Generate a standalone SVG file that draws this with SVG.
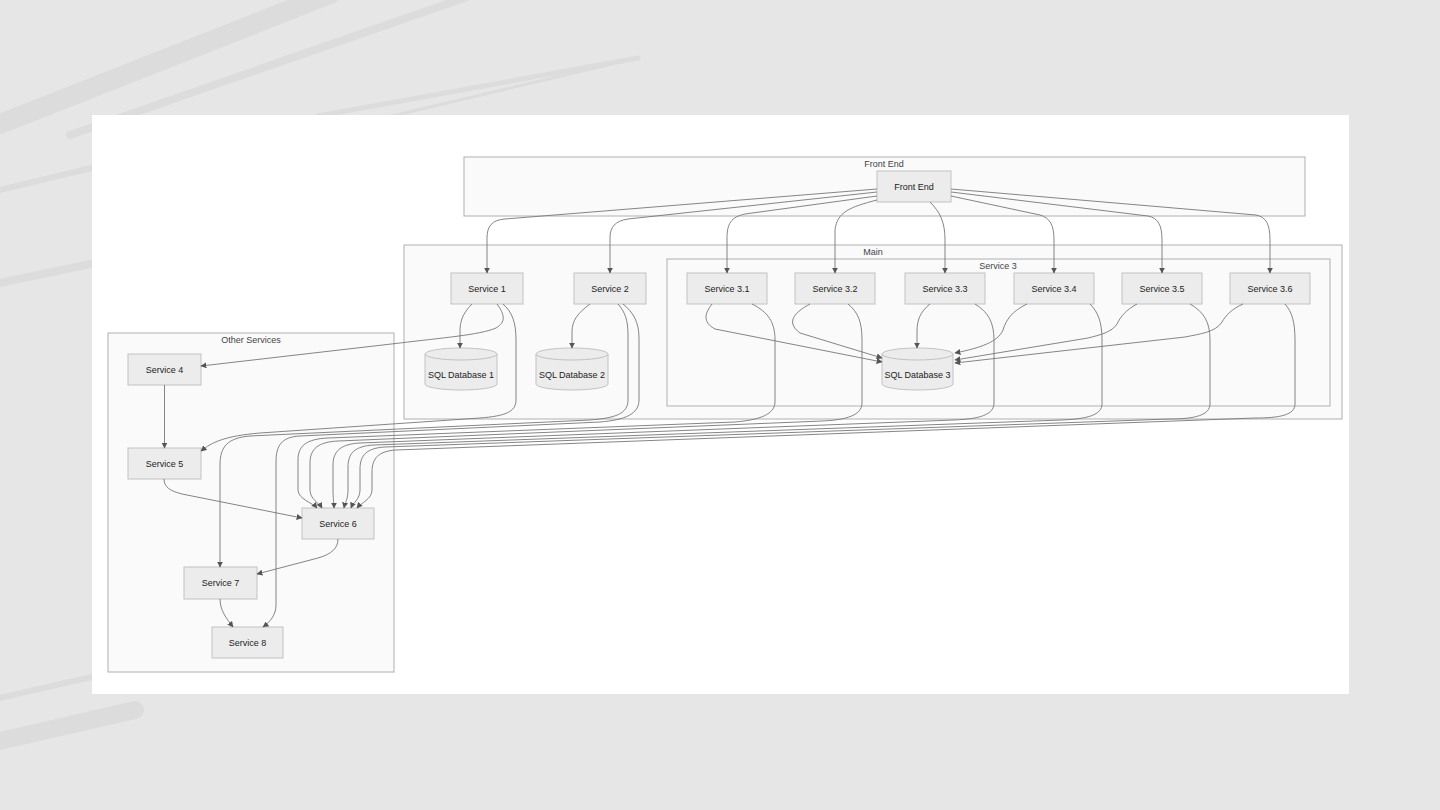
<svg xmlns="http://www.w3.org/2000/svg" width="1440" height="810" viewBox="0 0 1440 810">
<defs>
<style>
.bg{fill:#e6e6e6}
.brush{fill:none;stroke:#dcdcdc;stroke-linecap:round}
.cluster{fill:#fafafa;stroke:#b0b0b0;stroke-width:1}
.node rect,.node path{fill:#ececec;stroke:#c2c2c2;stroke-width:1}
.lbl{font-family:"Liberation Sans","DejaVu Sans",Arial,sans-serif;font-size:9px;fill:#222;text-anchor:middle}
.clbl{font-family:"Liberation Sans","DejaVu Sans",Arial,sans-serif;font-size:9px;fill:#444;text-anchor:middle}
.edges path{fill:none;stroke:#777;stroke-width:0.9;marker-end:url(#arr)}
</style>
<marker id="arr" viewBox="0 0 10 10" refX="9" refY="5" markerUnits="userSpaceOnUse" markerWidth="6" markerHeight="6" orient="auto">
<path d="M0,0 L10,5 L0,10 z" fill="#555"/>
</marker>
</defs>

<rect class="bg" x="0" y="0" width="1440" height="810"/>
<g id="brushes">
<path class="brush" d="M0,124 L330,-6" stroke-width="20"/>
<path class="brush" d="M70,135 L470,-4" stroke-width="8"/>
<path class="brush" d="M318,116 L638,58" stroke-width="5"/>
<path class="brush" d="M392,116 L612,64" stroke-width="3"/>
<path class="brush" d="M-5,191 L100,166" stroke-width="6"/>
<path class="brush" d="M-5,284 L100,262" stroke-width="8"/>
<path class="brush" d="M-5,699 L100,675" stroke-width="6"/>
<path class="brush" d="M-5,742 L135,710" stroke-width="18"/>
</g>

<rect x="92" y="115" width="1257" height="579" fill="#ffffff"/>

<g id="clusters">
<g id="cluster-frontend"><rect class="cluster" x="464" y="157" width="841" height="59"/><text class="clbl" x="884" y="167">Front End</text></g>
<g id="cluster-main"><rect class="cluster" x="404" y="245" width="938" height="174"/><text class="clbl" x="873" y="255">Main</text></g>
<g id="cluster-service3"><rect class="cluster" x="667" y="259" width="663" height="147"/><text class="clbl" x="998" y="269">Service 3</text></g>
<g id="cluster-other"><rect class="cluster" x="108" y="333" width="286" height="339"/><text class="clbl" x="251" y="343">Other Services</text></g>
</g>

<g id="nodes">
<g id="frontend" class="node"><rect x="877" y="171" width="74" height="31"/><text class="lbl" x="914" y="189.5">Front End</text></g>
<g id="service1" class="node"><rect x="451" y="273" width="72" height="31"/><text class="lbl" x="487" y="291.5">Service 1</text></g>
<g id="service2" class="node"><rect x="574" y="273" width="72" height="31"/><text class="lbl" x="610" y="291.5">Service 2</text></g>
<g id="service31" class="node"><rect x="687" y="273" width="80" height="31"/><text class="lbl" x="727" y="291.5">Service 3.1</text></g>
<g id="service32" class="node"><rect x="795" y="273" width="80" height="31"/><text class="lbl" x="835" y="291.5">Service 3.2</text></g>
<g id="service33" class="node"><rect x="905" y="273" width="80" height="31"/><text class="lbl" x="945" y="291.5">Service 3.3</text></g>
<g id="service34" class="node"><rect x="1014" y="273" width="80" height="31"/><text class="lbl" x="1054" y="291.5">Service 3.4</text></g>
<g id="service35" class="node"><rect x="1122" y="273" width="80" height="31"/><text class="lbl" x="1162" y="291.5">Service 3.5</text></g>
<g id="service36" class="node"><rect x="1230" y="273" width="80" height="31"/><text class="lbl" x="1270" y="291.5">Service 3.6</text></g>
<g id="db1" class="node"><path d="M425,354 a36,6 0 0 0 72,0 a36,6 0 0 0 -72,0 l0,30 a36,6 0 0 0 72,0 l0,-30"/><text class="lbl" x="461" y="378">SQL Database 1</text></g>
<g id="db2" class="node"><path d="M536,354 a36,6 0 0 0 72,0 a36,6 0 0 0 -72,0 l0,30 a36,6 0 0 0 72,0 l0,-30"/><text class="lbl" x="572" y="378">SQL Database 2</text></g>
<g id="db3" class="node"><path d="M882,354 a35.5,6 0 0 0 71,0 a35.5,6 0 0 0 -71,0 l0,30 a35.5,6 0 0 0 71,0 l0,-30"/><text class="lbl" x="917.5" y="378">SQL Database 3</text></g>
<g id="service4" class="node"><rect x="128" y="354" width="73" height="31"/><text class="lbl" x="164.5" y="372.5">Service 4</text></g>
<g id="service5" class="node"><rect x="128" y="448" width="73" height="31"/><text class="lbl" x="164.5" y="466.5">Service 5</text></g>
<g id="service6" class="node"><rect x="302" y="508" width="72" height="31"/><text class="lbl" x="338" y="526.5">Service 6</text></g>
<g id="service7" class="node"><rect x="184" y="567" width="73" height="32"/><text class="lbl" x="220.5" y="586">Service 7</text></g>
<g id="service8" class="node"><rect x="212" y="627" width="71" height="31"/><text class="lbl" x="247.5" y="645.5">Service 8</text></g>
</g>

<g id="connectors" class="edges">
<path d="M877,189 L505,219 C492,220 487,226 487,238 L487,273"/>
<path d="M877,192 L628,219 C615,221 610,227 610,238 L610,273"/>
<path d="M877,196 L745,214 C731,217 727,224 727,238 L727,273"/>
<path d="M877,200 C850,207 837,212 835,230 L835,273"/>
<path d="M930,202 C940,212 945,222 945,240 L945,273"/>
<path d="M951,196 L1040,215 C1050,218 1054,225 1054,240 L1054,273"/>
<path d="M951,192 L1148,216 C1158,218 1162,225 1162,240 L1162,273"/>
<path d="M951,189 L1256,215 C1266,217 1270,224 1270,240 L1270,273"/>

<path d="M472,304 C462,314 460,322 460,332 L460,348"/>
<path d="M590,304 C578,313 572,320 572,332 L572,348"/>
<path d="M497,304 C505,315 506,322 496,328 C480,335 440,338 400,343 L201,366"/>

<path d="M712,304 C705,313 702,322 715,329 L882,362"/>
<path d="M810,304 C795,312 785,322 800,333 L882,358"/>
<path d="M930,304 C920,312 917,320 917,332 L917,348"/>
<path d="M1027,304 C1012,311 1006,320 1003,330 C998,342 980,348 955,353"/>
<path d="M1137,304 C1126,310 1121,316 1117,324 C1112,332 1100,335 1088,338 L955,360"/>
<path d="M1243,304 C1232,309 1226,315 1222,322 C1216,332 1200,334 1185,337 L955,363"/>

<path d="M503,304 C512,312 516,322 516,340 L516,400 C516,412 505,416 480,418 L260,433 C225,436 212,442 201,451"/>
<path d="M618,304 C625,312 628,320 628,335 L628,400 C628,414 615,418 590,420 L250,436 C228,438 220,446 220,465 L220,567"/>
<path d="M623,304 C633,312 639,322 639,338 L639,400 C639,414 625,420 600,422 L300,436 C282,437 276,445 276,462 L276,605 C276,615 270,622 263,627"/>

<path d="M752,304 C768,312 775,322 775,340 L775,402 C775,414 760,420 735,422 L328,438 C306,439 298,446 298,460 L298,490 C298,499 313,503 317,508"/>
<path d="M848,304 C858,312 862,322 862,340 L862,403 C862,415 847,420 822,421 L338,441 C318,442 310,449 310,463 L310,490 C310,499 319,503 322,508"/>
<path d="M975,304 C988,312 994,322 994,340 L994,403 C994,415 979,419 954,420 L360,443 C341,444 333,451 333,465 L333,490 C333,499 334,503 334,508"/>
<path d="M1090,304 C1098,312 1102,322 1102,340 L1102,404 C1102,415 1087,419 1062,420 L374,445 C355,446 348,453 348,467 L348,490 C348,499 345,503 344,508"/>
<path d="M1190,304 C1204,312 1210,322 1210,340 L1210,404 C1210,415 1195,419 1170,419 L385,447 C367,448 360,455 360,469 L360,490 C360,499 353,503 351,508"/>
<path d="M1285,304 C1292,312 1295,322 1295,340 L1295,404 C1295,415 1280,418 1255,418 L396,450 C379,451 372,458 372,472 L372,490 C372,499 361,503 357,508"/>

<path d="M164.5,385 L164.5,448"/>
<path d="M164,479 C164,487 170,491 182,494 L302,518"/>
<path d="M338,539 C338,548 332,554 318,558 L257,574"/>
<path d="M220,599 C220,610 226,618 233,627"/>
</g>
</svg>
